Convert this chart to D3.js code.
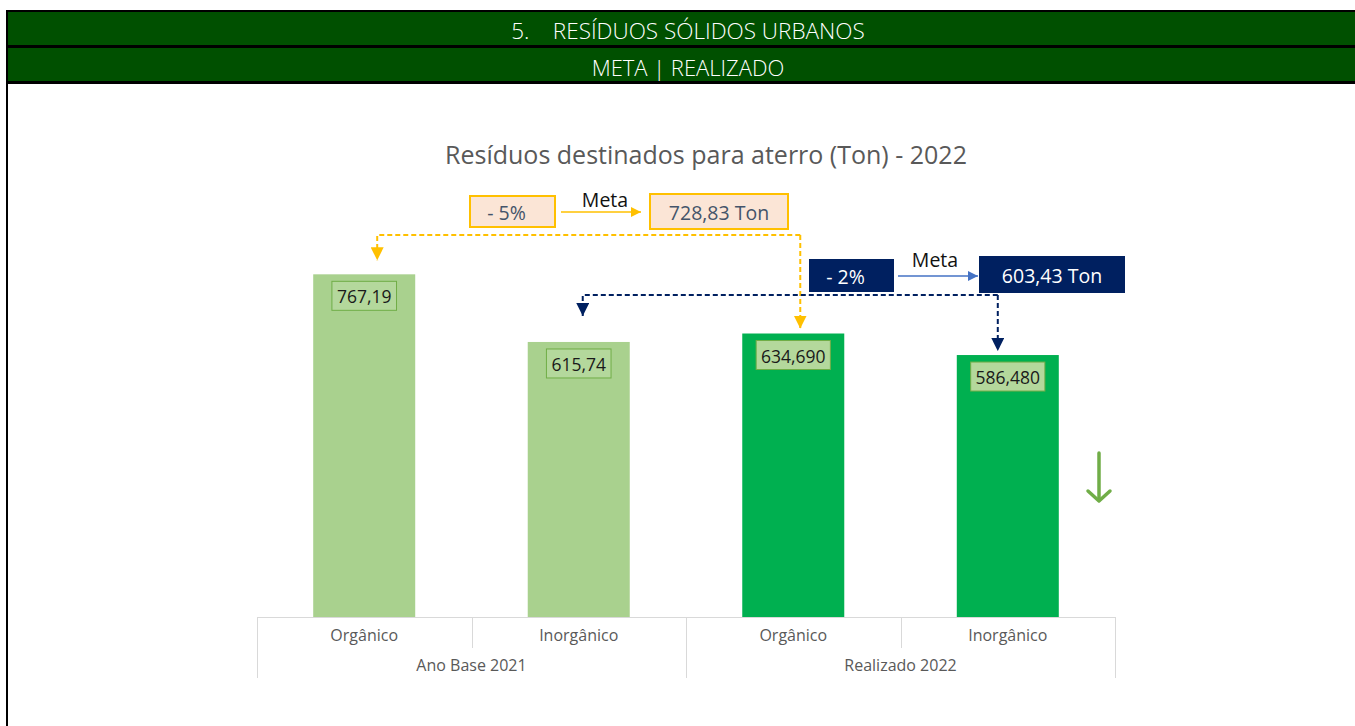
<!DOCTYPE html>
<html>
<head>
<meta charset="utf-8">
<script src="https://cdn.jsdelivr.net/npm/d3@7"></script>
<style>
  body { margin: 0; background: #fff; }
  svg { display: block; }
</style>
</head>
<body>
<svg id="chart" width="1355" height="726"></svg>
<script>
// Data
const groups = ['Ano Base 2021', 'Realizado 2022'];
const categories = ['Orgânico', 'Inorgânico'];
const values2021 = [767.19, 615.74];
const values2022 = [634.690, 586.480];
const valueLabels = ['767,19', '615,74', '634,690', '586,480'];
const metaPct = ['- 5%', '- 2%'];
const metaValues = ['728,83 Ton', '603,43 Ton'];

const bars = [];
groups.forEach((g, gi) => {
    const vals = gi === 0 ? values2021 : values2022;
    categories.forEach((c, ci) => {
        bars.push({ id: gi + '-' + ci, group: g, category: c, value: vals[ci], label: valueLabels[gi * 2 + ci], gi });
    });
});

const svg = d3.select('#chart');
const W = 1355;
const font = '"Open Sans", "Noto Sans", sans-serif';

// Header bands
const header = svg.append('g');
header.append('rect').attr('x', 6).attr('y', 10).attr('width', W).attr('height', 74).attr('fill', '#000');
header.append('rect').attr('x', 8).attr('y', 12).attr('width', W).attr('height', 33).attr('fill', '#005000');
header.append('rect').attr('x', 8).attr('y', 48).attr('width', W).attr('height', 33).attr('fill', '#005000');
header.append('rect').attr('x', 6).attr('y', 10).attr('width', 2).attr('height', 716).attr('fill', '#000');
header.append('text').attr('x', 688).attr('y', 30).attr('text-anchor', 'middle').attr('dominant-baseline', 'central')
    .attr('fill', '#fff').style('font', '300 22.5px ' + font).attr('xml:space', 'preserve')
    .text('5.    RESÍDUOS SÓLIDOS URBANOS');
header.append('text').attr('x', 688).attr('y', 67).attr('text-anchor', 'middle').attr('dominant-baseline', 'central')
    .attr('fill', '#fff').style('font', '300 22px ' + font)
    .text('META | REALIZADO');

// Title
svg.append('text').attr('x', 706).attr('y', 154).attr('text-anchor', 'middle').attr('dominant-baseline', 'central')
    .attr('fill', '#595959').style('font', '25px ' + font)
    .text('Resíduos destinados para aterro (Ton) - 2022');

// Scales
const x = d3.scaleBand().domain(bars.map(d => d.id)).range([257, 1115]).paddingInner(0.5245).paddingOuter(0.262);
const y = d3.scaleLinear().domain([0, 900]).range([617, 215]);
const step = x.step();
const xg = d3.scaleBand().domain(groups).range([257, 1115]);

// Bars
svg.append('g').selectAll('rect').data(bars).join('rect')
    .attr('x', d => x(d.id)).attr('y', d => y(d.value))
    .attr('width', x.bandwidth()).attr('height', d => y(0) - y(d.value))
    .attr('fill', d => d.gi === 0 ? '#A9D18E' : '#00B050');

// Value label boxes
const lab = svg.append('g').selectAll('g').data(bars).join('g')
    .attr('transform', d => `translate(${x(d.id) + x.bandwidth() / 2},${y(d.value) + 21})`);
lab.append('rect')
    .attr('x', d => -(d.label.length * 9.6 + 7) / 2).attr('y', -14)
    .attr('width', d => d.label.length * 9.6 + 7).attr('height', 29)
    .attr('fill', '#B4D89C').attr('stroke', '#70AD47').attr('stroke-width', 1);
lab.append('text').attr('text-anchor', 'middle').attr('dominant-baseline', 'central').attr('y', 1)
    .attr('fill', '#1a1a1a').style('font', '17.5px ' + font).text(d => d.label);

// Axis
const axis = svg.append('g').attr('stroke', '#D9D9D9').attr('stroke-width', 1);
axis.append('line').attr('x1', 257).attr('x2', 1115).attr('y1', 617.5).attr('y2', 617.5);
const bounds = d3.range(bars.length + 1).map(i => 257 + i * step);
axis.selectAll('line.sep').data(bounds).join('line').attr('class', 'sep')
    .attr('x1', d => Math.round(d) + 0.5).attr('x2', d => Math.round(d) + 0.5)
    .attr('y1', 617).attr('y2', (d, i) => i % 2 === 0 ? 678 : 648);
svg.append('g').selectAll('text').data(bars).join('text')
    .attr('x', d => x(d.id) + x.bandwidth() / 2).attr('y', 635)
    .attr('text-anchor', 'middle').attr('dominant-baseline', 'central')
    .attr('fill', '#595959').style('font', '16px ' + font).text(d => d.category);
svg.append('g').selectAll('text').data(groups).join('text')
    .attr('x', d => xg(d) + xg.bandwidth() / 2).attr('y', 665)
    .attr('text-anchor', 'middle').attr('dominant-baseline', 'central')
    .attr('fill', '#595959').style('font', '16px ' + font).text(d => d);

// Arrow markers
const defs = svg.append('defs');
function marker(id, color, size) {
    defs.append('marker').attr('id', id).attr('viewBox', '0 0 10 10').attr('refX', 10).attr('refY', 5)
        .attr('markerWidth', size).attr('markerHeight', size).attr('markerUnits', 'userSpaceOnUse').attr('orient', 'auto')
        .append('path').attr('d', 'M0,0L10,5L0,10Z').attr('fill', color);
}
marker('mOrange', '#FFC000', 13);
marker('mNavy', '#002060', 13);
marker('mBlue', '#4472C4', 10);
marker('mOrangeBig', '#FFC000', 10);

const cx = i => x(bars[i].id) + x.bandwidth() / 2;

// Meta annotations
const annot = [
    { pct: metaPct[0], val: metaValues[0], fill: '#FBE5D6', stroke: '#FFC000', text: '#44546A', arrow: '#FFC000', am: 'mOrangeBig',
      pBox: [470, 196, 85, 31], vBox: [650, 194, 138, 35], metaX: 605, metaY: 199, ay: 212, ax0: 561, ax1: 641 },
    { pct: metaPct[1], val: metaValues[1], fill: '#002060', stroke: '#002060', text: '#fff', arrow: '#4472C4', am: 'mBlue',
      pBox: [810, 260, 83, 31], vBox: [980, 257, 144, 35], metaX: 935, metaY: 259, ay: 276, ax0: 898, ax1: 978 }
];
annot.forEach(a => {
    const g = svg.append('g');
    g.append('rect').attr('x', a.pBox[0]).attr('y', a.pBox[1]).attr('width', a.pBox[2]).attr('height', a.pBox[3])
        .attr('fill', a.fill).attr('stroke', a.stroke).attr('stroke-width', 2);
    g.append('text').attr('x', a.pBox[0] + a.pBox[2] / 2 - 6).attr('y', a.pBox[1] + a.pBox[3] / 2 + 1)
        .attr('text-anchor', 'middle').attr('dominant-baseline', 'central')
        .attr('fill', a.text).style('font', '19.5px ' + font).text(a.pct);
    g.append('rect').attr('x', a.vBox[0]).attr('y', a.vBox[1]).attr('width', a.vBox[2]).attr('height', a.vBox[3])
        .attr('fill', a.fill).attr('stroke', a.stroke).attr('stroke-width', 2);
    g.append('text').attr('x', a.vBox[0] + a.vBox[2] / 2).attr('y', a.vBox[1] + a.vBox[3] / 2 + 1)
        .attr('text-anchor', 'middle').attr('dominant-baseline', 'central')
        .attr('fill', a.text).style('font', '19.5px ' + font).text(a.val);
    g.append('text').attr('x', a.metaX).attr('y', a.metaY).attr('text-anchor', 'middle').attr('dominant-baseline', 'central')
        .attr('fill', '#111').style('font', '19.5px ' + font).text('Meta');
    g.append('line').attr('x1', a.ax0).attr('x2', a.ax1).attr('y1', a.ay).attr('y2', a.ay)
        .attr('stroke', a.arrow).attr('stroke-width', 1.5).attr('marker-end', `url(#${a.am})`);
});

// Dashed connectors from targets to bars
const connectors = [
    { color: '#FFC000', m: 'mOrange', yLine: 235, left: cx(0) + 13, right: cx(2) + 7, tipL: y(values2021[0]) - 14, tipR: y(values2022[0]) - 5 },
    { color: '#002060', m: 'mNavy', yLine: 295, left: cx(1) + 4, right: cx(3) - 10, tipL: y(values2021[1]) - 26, tipR: y(values2022[1]) - 4 }
];
connectors.forEach(c => {
    const g = svg.append('g').attr('fill', 'none').attr('stroke', c.color).attr('stroke-width', 2).attr('stroke-dasharray', '5,3');
    g.append('path').attr('d', `M${c.right},${c.yLine}H${c.left}V${c.tipL}`).attr('marker-end', `url(#${c.m})`);
    g.append('path').attr('d', `M${c.right},${c.yLine}V${c.tipR}`).attr('marker-end', `url(#${c.m})`);
});

// Green down arrow
const ga = svg.append('g').attr('stroke', '#70AD47').attr('stroke-width', 3.5).attr('fill', 'none').attr('stroke-linecap', 'round').attr('stroke-linejoin', 'round');
ga.append('line').attr('x1', 1099).attr('x2', 1099).attr('y1', 453).attr('y2', 500);
ga.append('path').attr('d', 'M1088,491L1099,501L1110,491');
</script>
</body>
</html>
